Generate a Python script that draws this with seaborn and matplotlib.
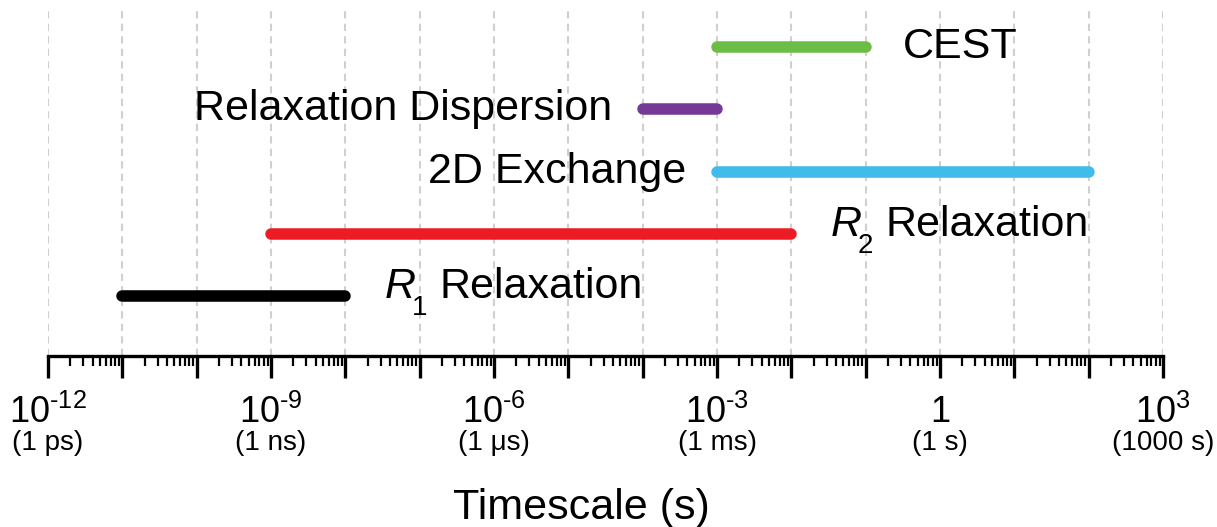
import numpy as np
import pandas as pd
import matplotlib
matplotlib.use("Agg")
import matplotlib.pyplot as plt
import matplotlib.ticker as mticker
import matplotlib.transforms as mtransforms
import seaborn as sns

# Timescale windows accessible to each NMR technique (seconds)
techniques = ["R1 Relaxation", "R2 Relaxation", "2D Exchange",
              "Relaxation Dispersion", "CEST"]
label_symbol = ["R", "R", "", "", ""]
label_subscript = ["1", "2", "", "", ""]
label_text = ["Relaxation", "Relaxation", "2D Exchange",
              "Relaxation Dispersion", "CEST"]
t_start = [1e-11, 1e-9, 1e-3, 1e-4, 1e-3]
t_end = [1e-8, 1e-2, 1e2, 1e-3, 1e-1]
row = [0, 1, 2, 3, 4]
label_side = ["right", "right", "left", "left", "right"]
colors = ["#000000", "#ED1C24", "#41BBEA", "#763A96", "#6BBD45"]

tick_exponents = [-12, -9, -6, -3, 0, 3]
tick_main = [r"$10^{\text{-12}}$", r"$10^{\text{-9}}$", r"$10^{\text{-6}}$",
             r"$10^{\text{-3}}$", "1", r"$10^{3}$"]
tick_units = ["(1 ps)", "(1 ns)", "(1 μs)", "(1 ms)", "(1 s)", "(1000 s)"]

sns.set_theme(style="white")
plt.rcParams["font.family"] = ["Liberation Sans", "DejaVu Sans"]
plt.rcParams["mathtext.fontset"] = "custom"
plt.rcParams["mathtext.rm"] = "Liberation Sans"
plt.rcParams["mathtext.it"] = "Liberation Sans:italic"
plt.rcParams["mathtext.bf"] = "Liberation Sans:bold"
plt.rcParams["text.color"] = "black"
plt.rcParams["axes.labelcolor"] = "black"
plt.rcParams["xtick.color"] = "black"
plt.rcParams["xtick.labelcolor"] = "black"

df = pd.DataFrame({
    "technique": np.repeat(techniques, 2),
    "time": np.ravel(np.column_stack([t_start, t_end])),
    "row": np.repeat(row, 2),
})

W, H = 1217, 527
fig = plt.figure(figsize=(W / 100, H / 100), dpi=100)
ax = fig.add_axes([48 / W, 171 / H, 1115 / W, 348 / H])
ax.set_xscale("log")

sns.lineplot(data=df, x="time", y="row", hue="technique",
             palette=dict(zip(techniques, colors)), estimator=None,
             sort=False, legend=False, linewidth=8.3,
             solid_capstyle="round", ax=ax, zorder=3)

ax.set_xlim(1e-12, 1e3)
ax.set_ylim(-0.964, 4.627)

# technique labels beside each bar
for sym, sub, txt, s, e, r, side in zip(label_symbol, label_subscript, label_text,
                                         t_start, t_end, row, label_side):
    if sym:
        # italic rate symbol with a lowered subscript, then the word
        ax.annotate(sym, xy=(e, r), xytext=(28, -1.5), textcoords="offset points",
                    ha="left", va="baseline", fontsize=31, fontstyle="italic")
        ax.annotate(sub, xy=(e, r), xytext=(48, -14), textcoords="offset points",
                    ha="left", va="baseline", fontsize=20)
        ax.annotate(txt, xy=(e, r), xytext=(67.5, -1.5), textcoords="offset points",
                    ha="left", va="baseline", fontsize=31)
    elif side == "right":
        ax.annotate(txt, xy=(e, r), xytext=(27, 0), textcoords="offset points",
                    ha="left", va="center", fontsize=31)
    else:
        ax.annotate(txt, xy=(s, r), xytext=(-22, 0), textcoords="offset points",
                    ha="right", va="center", fontsize=31)

# axis ticks: every decade, labelled every third decade
major_locs = 10.0 ** np.arange(-12, 4)
ax.xaxis.set_major_locator(mticker.FixedLocator(major_locs))
label_map = {e: lab for e, lab in zip(tick_exponents, tick_main)}


def fmt(x, pos):
    e = int(round(np.log10(x)))
    return label_map.get(e, "")


ax.xaxis.set_major_formatter(mticker.FuncFormatter(fmt))
ax.xaxis.set_minor_locator(mticker.LogLocator(base=10, subs=np.arange(2, 10), numticks=200))
ax.xaxis.set_minor_formatter(mticker.NullFormatter())
ax.tick_params(axis="x", which="major", direction="out", length=16, width=2.4,
               pad=12, labelsize=26, color="black", labelcolor="black", bottom=True)
ax.tick_params(axis="x", which="minor", direction="out", length=7, width=1.6,
               color="black", bottom=True)
ax.tick_params(axis="y", left=False, labelleft=False)
ax.set_ylabel("")

for side in ["left", "right", "top"]:
    ax.spines[side].set_visible(False)
ax.spines["bottom"].set_linewidth(2.4)
ax.spines["bottom"].set_color("black")

ax.grid(axis="x", which="major", linestyle=(0, (3.5, 2.5)), color="#d0d0d0",
        linewidth=1.5)
ax.grid(axis="y", visible=False)
ax.set_axisbelow(True)

# unit annotations under the decade labels
trans = mtransforms.blended_transform_factory(ax.transData, fig.transFigure)
for e, u in zip(tick_exponents, tick_units):
    ax.text(10.0 ** e, 0.160, u, ha="center", va="center", fontsize=20,
            color="black", transform=trans)

ax.set_xlabel("Timescale (s)", fontsize=31, color="black")
ax.xaxis.set_label_coords(0.478, -0.378)

fig.savefig("out.png", dpi=100)
